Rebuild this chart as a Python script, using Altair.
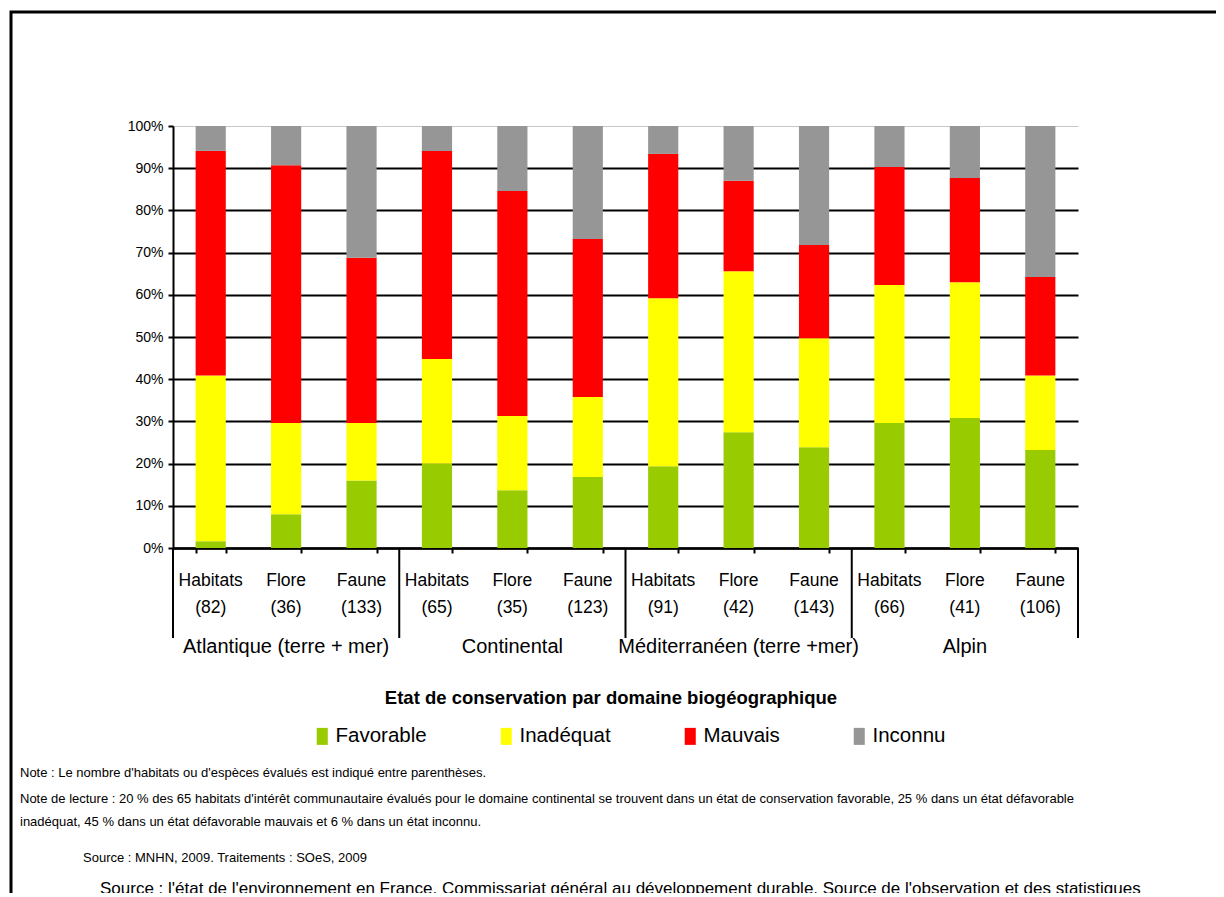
import altair as alt
import pandas as pd

# ---- data ----
domains = ["Atlantique (terre + mer)", "Continental", "Méditerranéen (terre +mer)", "Alpin"]
types = ["Habitats", "Flore", "Faune"]
counts = [82, 36, 133, 65, 35, 123, 91, 42, 143, 66, 41, 106]
states = ["Favorable", "Inadéquat", "Mauvais", "Inconnu"]
colors = ["#99CC00", "#FFFF00", "#FF0000", "#969696"]

favorable = [1.6, 8.0, 16.0, 20.0, 13.7, 16.8, 19.4, 27.4, 23.9, 29.6, 30.8, 23.2]
inadequat = [39.3, 21.6, 13.6, 24.8, 17.6, 19.0, 39.8, 38.2, 25.8, 32.7, 32.2, 17.7]
mauvais = [53.2, 61.1, 39.2, 49.3, 53.3, 37.4, 34.2, 21.4, 22.1, 28.0, 24.7, 23.3]
inconnu = [5.9, 9.3, 31.2, 5.9, 15.4, 26.8, 6.6, 13.0, 28.2, 9.7, 12.3, 35.8]

title_text = "Etat de conservation par domaine biogéographique"
note1 = "Note : Le nombre d'habitats ou d'espèces évalués est indiqué entre parenthèses."
note2 = ("Note de lecture : 20 % des 65 habitats d'intérêt communautaire évalués pour le domaine continental "
         "se trouvent dans un état de conservation favorable, 25 % dans un état défavorable")
note3 = "inadéquat, 45 % dans un état défavorable mauvais et 6 % dans un état inconnu."
source1 = "Source : MNHN, 2009. Traitements : SOeS, 2009"
source2 = ("Source : l'état de l'environnement en France. Commissariat général au développement durable. "
           "Source de l'observation et des statistiques")

FONT = "Liberation Sans"

# ---- tables ----
cats = [f"{types[i % 3]}\n({counts[i]})" for i in range(len(counts))]
series = [favorable, inadequat, mauvais, inconnu]
rows = []
for i, c in enumerate(cats):
    for k, s in enumerate(states):
        rows.append({"cat": c, "state": s, "value": series[k][i], "idx": k})
bars_df = pd.DataFrame(rows)
cats_df = pd.DataFrame({"cat": cats})
groups_df = pd.DataFrame({"cat": [cats[3 * g + 1] for g in range(4)], "domain": domains})
boundaries = [0, 3, 6, 9, 12]
sep_df = pd.DataFrame({"b": boundaries})
one = pd.DataFrame({"k": [0]})

W, H = 905, 422
xscale = alt.Scale(domain=cats, paddingInner=0.6, paddingOuter=0.3)

bars = alt.Chart(bars_df).mark_bar().encode(
    x=alt.X("cat:N", scale=xscale, sort=cats,
            axis=alt.Axis(labels=False, title=None, tickBand="extent", tickSize=5,
                          tickWidth=2, tickColor="black", domainColor="black",
                          domainWidth=2.5, grid=False)),
    y=alt.Y("value:Q", stack="zero", scale=alt.Scale(domain=[0, 100], nice=False),
            axis=alt.Axis(values=list(range(0, 101, 10)), labelExpr="datum.value + '%'",
                          title=None, grid=True,
                          gridColor={"condition": {"test": "datum.value >= 100", "value": "#c8c8c8"},
                                     "value": "black"},
                          gridWidth={"condition": {"test": "datum.value >= 100", "value": 1},
                                     "value": 2},
                          tickSize=5, tickWidth=2, tickColor="black",
                          domainColor="black", domainWidth=2,
                          labelFontSize=14, labelColor="black", labelPadding=5, labelFont=FONT)),
    color=alt.Color("state:N", scale=alt.Scale(domain=states, range=colors),
                    legend=alt.Legend(title=None, orient="none", direction="horizontal",
                                      legendX=139, legendY=600,
                                      symbolType="M-0.65,-1L0.65,-1L0.65,1L-0.65,1Z",
                                      symbolSize=289, symbolStrokeWidth=0, symbolOpacity=1,
                                      labelFontSize=20.5, labelFont=FONT, labelColor="black",
                                      labelOffset=3, columnPadding=69, padding=0)),
    order=alt.Order("idx:Q"),
)

cat_labels = alt.Chart(cats_df).mark_text(
    lineBreak="\n", lineHeight=27, fontSize=17.5, font=FONT, color="black", baseline="middle"
).encode(x=alt.X("cat:N", sort=cats, scale=xscale, axis=None), y=alt.value(455), text="cat:N")

group_labels = alt.Chart(groups_df).mark_text(
    fontSize=20, font=FONT, color="black", baseline="middle"
).encode(x=alt.X("cat:N", sort=cats, scale=xscale, axis=None), y=alt.value(521), text="domain:N")

sep_rules = alt.Chart(sep_df).mark_rule(color="black", strokeWidth=2).encode(
    x=alt.X("b:Q", scale=alt.Scale(domain=[0, 12], nice=False, zero=False), axis=None),
    y=alt.value(H), y2=alt.value(H + 90))


def text_layer(txt, x, y, size, weight="normal", align="left"):
    return alt.Chart(one).mark_text(
        text=txt, fontSize=size, fontWeight=weight, font=FONT, color="black",
        align=align, baseline="middle"
    ).encode(x=alt.value(x), y=alt.value(y))


title = text_layer(title_text, 438, 572, 18.5, weight="bold", align="center")
n1 = text_layer(note1, -153, 647, 13)
n2 = text_layer(note2, -153, 673, 13)
n3 = text_layer(note3, -153, 696, 13)
s1 = text_layer(source1, -90, 732, 13)
s2 = text_layer(source2, -73, 763, 17)

frame = alt.Chart(one).mark_rect(fill=None, stroke="black", strokeWidth=3).encode(
    x=alt.value(-162), y=alt.value(-114), x2=alt.value(1200), y2=alt.value(900))

chart = alt.layer(
    frame, bars, sep_rules, cat_labels, group_labels,
    title, n1, n2, n3, s1, s2
).resolve_scale(x="independent").properties(
    width=W, height=H,
    autosize=alt.AutoSizeParams(type="none"),
    padding={"left": 165, "top": 118, "right": 138, "bottom": 345},
).configure(font=FONT, view=alt.ViewConfig(stroke=None))

chart.save("out.html", embed_options={"renderer": "svg", "actions": False})
